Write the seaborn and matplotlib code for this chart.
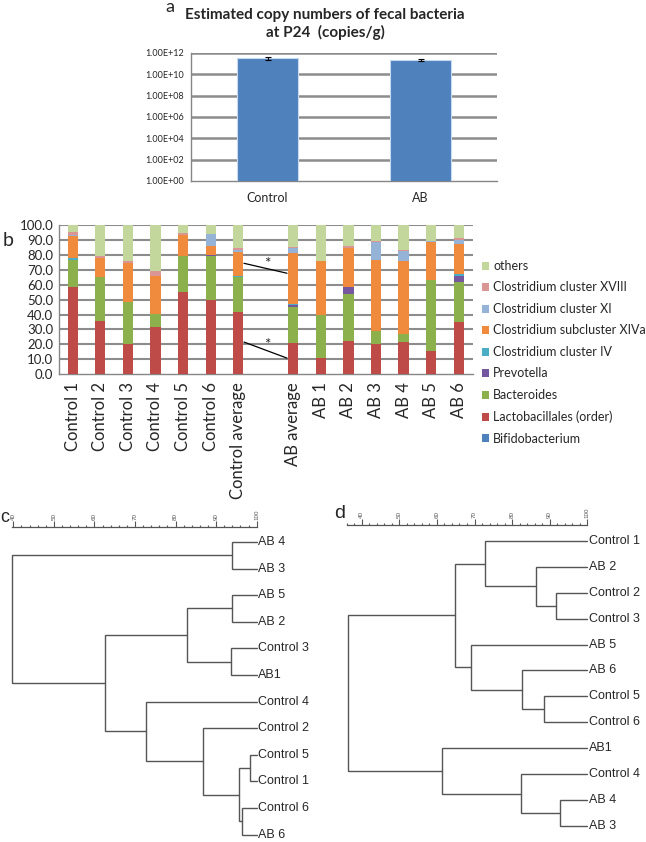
import numpy as np
import pandas as pd
import seaborn as sns
import matplotlib.pyplot as plt
from matplotlib.patches import Patch
from matplotlib.ticker import FixedLocator, MultipleLocator

# ---- panel a: estimated copy numbers ----
groups = ['Control', 'AB']
copies = [3.4e11, 2.4e11]
copies_err = [1.0e11, 0.5e11]

# ---- panel b: relative abundance (%) ----
samples = ['Control 1', 'Control 2', 'Control 3', 'Control 4', 'Control 5', 'Control 6',
           'Control average', '', 'AB average', 'AB 1', 'AB 2', 'AB 3', 'AB 4', 'AB 5', 'AB 6']
taxa = ['Bifidobacterium', 'Lactobacillales (order)', 'Bacteroides', 'Prevotella',
        'Clostridium cluster IV', 'Clostridium subcluster XIVa', 'Clostridium cluster XI',
        'Clostridium cluster XVIII', 'others']
bifido      = [0.3, 0.2, 0.2, 0.2, 0.2, 0.2, 0.2, 0, 0.2, 0.2, 0.2, 0.2, 0.2, 0.2, 0.2]
lacto       = [58.5, 35.6, 20.2, 31.3, 54.8, 49.9, 41.8, 0, 20.8, 10.5, 21.7, 19.9, 21.3, 15.5, 35.1]
bacteroides = [17.9, 29.2, 27.9, 8.9, 24.6, 29.5, 23.5, 0, 24.4, 28.7, 31.8, 8.8, 5.1, 47.6, 26.4]
prevotella  = [0, 0, 0, 0, 0, 0.6, 0.1, 0, 1.3, 0, 4.9, 0, 0, 0, 4.1]
clos_iv     = [1.3, 0, 0, 0, 0, 0.2, 0.3, 0, 0.3, 0, 0.2, 0, 0, 0.2, 1.2]
clos_xiva   = [14.6, 13.0, 26.4, 25.4, 13.9, 6.0, 16.0, 0, 34.4, 36.4, 25.8, 47.6, 49.2, 25.5, 20.2]
clos_xi     = [1.0, 0.3, 0.3, 0.4, 0.3, 7.6, 1.8, 0, 3.6, 0.2, 0.4, 12.5, 7.2, 0.2, 3.2]
clos_xviii  = [1.7, 1.3, 1.0, 3.4, 0.8, 0.4, 1.1, 0, 0.5, 0.2, 1.0, 0.3, 0.5, 0.2, 0.9]
others      = [4.7, 20.4, 24.0, 30.4, 5.4, 5.6, 15.2, 0, 14.5, 23.8, 14.0, 10.7, 16.5, 10.6, 8.7]
taxa_colors = ['#4F81BD', '#BE4B48', '#8CB04B', '#7557A0', '#4BACC6',
               '#F08A3C', '#95B3D7', '#D99694', '#C3D69B']

# ---- panels c, d: dendrograms (leaf order top->bottom, merges like a linkage) ----
leaves_c = ['AB 4', 'AB 3', 'AB 5', 'AB 2', 'Control 3', 'AB1', 'Control 4',
            'Control 2', 'Control 5', 'Control 1', 'Control 6', 'AB 6']
merges_c = [(0, 1, 93.8), (2, 3, 93.9), (4, 5, 93.6), (13, 14, 82.9),
            (8, 9, 98.4), (10, 11, 96.3), (16, 17, 95.6), (7, 18, 86.8),
            (6, 19, 72.6), (15, 20, 62.7), (12, 21, 39.6)]
leaves_d = ['Control 1', 'AB 2', 'Control 2', 'Control 3', 'AB 5', 'AB 6',
            'Control 5', 'Control 6', 'AB1', 'Control 4', 'AB 4', 'AB 3']
merges_d = [(2, 3, 91.6), (1, 12, 86.4), (0, 13, 72.8), (6, 7, 88.5),
            (5, 15, 82.5), (4, 16, 69.1), (14, 17, 64.8), (10, 11, 92.7),
            (9, 19, 82.4), (8, 20, 61.4), (18, 21, 36.3)]

sns.set_style('white')
plt.rcParams['font.family'] = ['Lato', 'DejaVu Sans']

W, H = 646, 842
fig = plt.figure(figsize=(W / 100, H / 100), dpi=100)

def px_axes(left, top, width, height):
    return fig.add_axes([left / W, 1 - (top + height) / H, width / W, height / H])

grid_col = '#8C8C8C'
axis_col = '#868686'

# ---------------- panel a ----------------
ax_a = px_axes(191, 53, 306, 128)
sns.barplot(x=groups, y=copies, color='#4F81BD', width=0.4, saturation=1,
            errorbar=None, edgecolor='#C6D9F1', linewidth=0.8, ax=ax_a, zorder=3)
ax_a.set_yscale('log')
ax_a.errorbar(x=[0, 1], y=copies, yerr=copies_err, fmt='none', ecolor='black',
              elinewidth=0.8, capsize=2, capthick=0.8, zorder=4)
ax_a.set_ylim(1, 1e12)
ax_a.set_xlim(-0.5, 1.5)
ticks_a = [10.0 ** k for k in range(0, 13, 2)]
ax_a.yaxis.set_major_locator(FixedLocator(ticks_a))
ax_a.yaxis.set_minor_locator(FixedLocator([]))
ax_a.set_yticklabels(['1.00E+%02d' % k for k in range(0, 13, 2)], fontsize=6.5)
for t in ticks_a[1:]:
    ax_a.axhline(t, color=grid_col, lw=1.8, zorder=1)
ax_a.tick_params(axis='y', length=3, width=0.8, color=axis_col, pad=2)
ax_a.tick_params(axis='x', length=0, labelsize=9, pad=8)
ax_a.xaxis.set_minor_locator(FixedLocator([0.5]))
ax_a.tick_params(axis='x', which='minor', length=4, width=0.8, color=axis_col)
for s in ['top', 'right']:
    ax_a.spines[s].set_visible(False)
for s in ['left', 'bottom']:
    ax_a.spines[s].set_color(axis_col)
    ax_a.spines[s].set_linewidth(1.0)
ax_a.set_xlabel('')
ax_a.set_ylabel('')

fig.text(325 / W, 1 - 24 / H, 'Estimated copy numbers of fecal bacteria\nat P24  (copies/g)',
         ha='center', va='center', fontsize=11, fontweight='bold', linespacing=1.2)
fig.text(165 / W, 1 - 7 / H, 'a', ha='left', va='center', fontsize=13)

# ---------------- panel b ----------------
ax_b = px_axes(59, 225.4, 413.5, 148.6)
comp = pd.DataFrame(dict(zip(taxa, [bifido, lacto, bacteroides, prevotella, clos_iv,
                                    clos_xiva, clos_xi, clos_xviii, others])))
cum = comp[taxa].cumsum(axis=1)
cum['sample'] = samples
for taxon, col in reversed(list(zip(taxa, taxa_colors))):
    sns.barplot(data=cum, x='sample', y=taxon, order=samples, color=col, width=0.37,
                saturation=1, errorbar=None, linewidth=0, ax=ax_b, zorder=3)
ax_b.set_ylim(0, 100)
ax_b.set_xlim(-0.5, len(samples) - 0.5)
ax_b.set_yticks(np.arange(0, 101, 10))
ax_b.set_yticklabels(['%.1f' % v for v in np.arange(0, 101, 10)], fontsize=9.5)
for v in np.arange(10, 101, 10):
    ax_b.axhline(v, color=grid_col, lw=1.5, zorder=1)
ax_b.tick_params(axis='y', length=3, width=0.8, color=axis_col, pad=1)
ax_b.set_xticks(range(len(samples)))
ax_b.set_xticklabels(samples, rotation=90, fontsize=12)
ax_b.tick_params(axis='x', length=0, pad=6)
ax_b.xaxis.set_minor_locator(FixedLocator(np.arange(-0.5, len(samples), 1.0)))
ax_b.tick_params(axis='x', which='minor', length=4.5, width=1.0, color=axis_col)
for s in ['top', 'right']:
    ax_b.spines[s].set_visible(False)
for s in ['left', 'bottom']:
    ax_b.spines[s].set_color(axis_col)
    ax_b.spines[s].set_linewidth(1.0)
ax_b.set_xlabel('')
ax_b.set_ylabel('')

# significance marks
ax_b.plot([6.21, 7.77], [74.5, 67.8], color='black', lw=0.9, zorder=5)
ax_b.plot([6.21, 7.77], [21.5, 10.7], color='black', lw=0.9, zorder=5)
ax_b.text(7.04, 74.0, '*', ha='center', va='center', fontsize=11, zorder=6)
ax_b.text(7.04, 19.5, '*', ha='center', va='center', fontsize=11, zorder=6)

handles = [Patch(facecolor=c, edgecolor='none') for c in taxa_colors][::-1]
fig.legend(handles, taxa[::-1], loc='upper left', bbox_to_anchor=(482 / W, 1 - 260 / H),
           frameon=False, fontsize=9, handlelength=0.6, handleheight=0.6,
           handletextpad=0.3, labelspacing=0.76, borderpad=0, borderaxespad=0)
fig.text(3 / W, 1 - 240 / H, 'b', ha='left', va='center', fontsize=14)

# ---------------- panels c, d ----------------
line_col = '#555555'

def draw_tree(ax, leaves, merges):
    pos = {i: (100.0, float(i)) for i in range(len(leaves))}
    for k, (a, b, h) in enumerate(merges):
        xa, ya = pos[a]
        xb, yb = pos[b]
        ax.plot([xa, h, h, xb], [ya, ya, yb, yb], color=line_col, lw=1.0, clip_on=False,
                solid_joinstyle='miter')
        pos[len(leaves) + k] = (h, (ya + yb) / 2)
    for i, name in enumerate(leaves):
        ax.annotate(name, (100, i), xytext=(1.2, 0), textcoords='offset points',
                    ha='left', va='center', fontsize=9, family=['Liberation Sans'],
                    annotation_clip=False)
    ax.axis('off')

def draw_scale(ax, lo):
    ax.set_xlim(lo, 100)
    ax.set_ylim(0, 1)
    for s in ['left', 'right', 'bottom']:
        ax.spines[s].set_visible(False)
    ax.spines['top'].set_visible(True)
    ax.spines['top'].set_color(line_col)
    ax.spines['top'].set_linewidth(0.9)
    ax.xaxis.set_ticks_position('top')
    ax.set_xticks(range(40, 101, 10))
    ax.xaxis.set_minor_locator(MultipleLocator(2))
    ax.set_xticklabels([str(v) for v in range(40, 101, 10)], rotation=90,
                       fontsize=4.5, color=line_col, family=['Liberation Sans'])
    ax.tick_params(axis='x', which='major', direction='out', length=4, width=0.8,
                   color=line_col, pad=1)
    ax.tick_params(axis='x', which='minor', direction='out', length=1.5, width=0.8,
                   color=line_col)
    ax.set_yticks([])
    ax.patch.set_alpha(0)

# panel c: x 40 -> 13.3 px, 100 -> 256.7 px ; leaves from 542 px, step 26.6 px
ux_c = (256.7 - 13.3) / 60
ax_c = px_axes(13.3 - 3 * ux_c, 530.0, 63 * ux_c, 312.0)
draw_tree(ax_c, leaves_c, merges_c)
ax_c.set_xlim(37, 100)
ax_c.set_ylim(11.28, -0.45)
sc_c = px_axes(13.3 - 0.3 * ux_c, 527, 60.3 * ux_c, 0.01)
draw_scale(sc_c, 39.7)
fig.text(0 / W, 1 - 517 / H, 'c', ha='left', va='center', fontsize=13,
         family=['Liberation Sans'])

# panel d: x 40 -> 361.7 px, 100 -> 587.3 px ; leaves from 541 px, step 25.9 px
ux_d = (587.3 - 361.7) / 60
ax_d = px_axes(361.7 - 5 * ux_d, 529.3, 65 * ux_d, 312.7)
draw_tree(ax_d, leaves_d, merges_d)
ax_d.set_xlim(35, 100)
ax_d.set_ylim(11.62, -0.45)
sc_d = px_axes(361.7 - 4 * ux_d, 525, 64 * ux_d, 0.01)
draw_scale(sc_d, 36)
fig.text(334 / W, 1 - 514 / H, 'd', ha='left', va='center', fontsize=14,
         family=['Liberation Sans'])

fig.savefig('out.png', dpi=100)
